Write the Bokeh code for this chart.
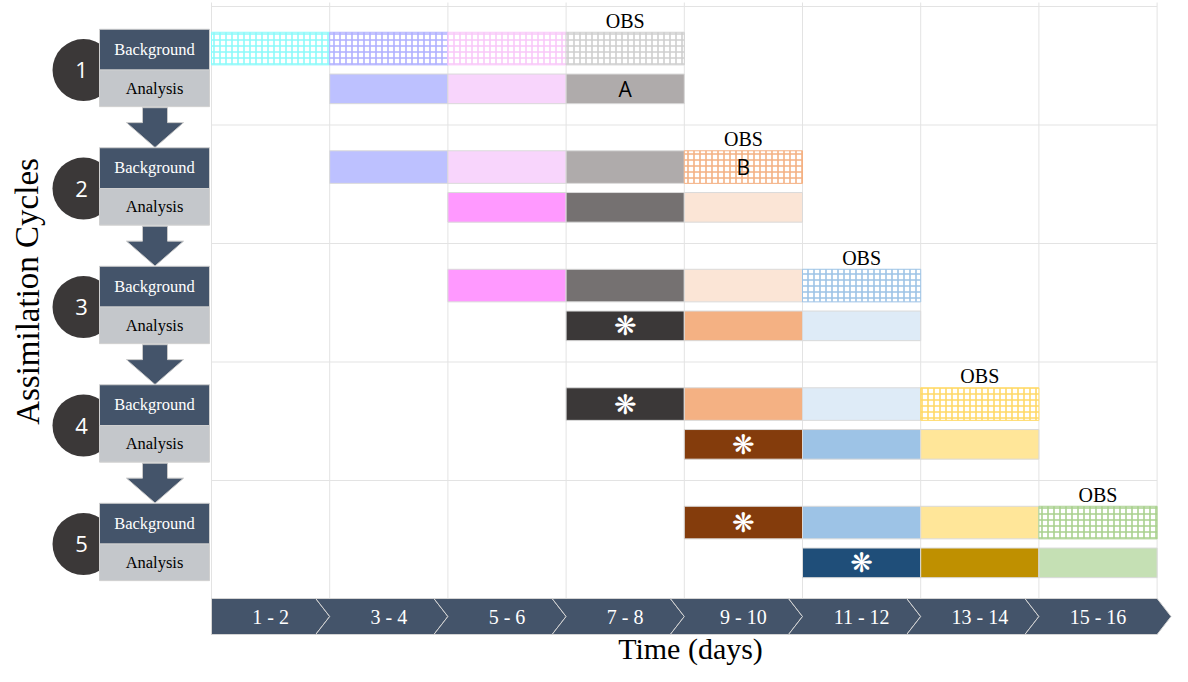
from bokeh.plotting import figure
from bokeh.models import Range1d, ColumnDataSource
from bokeh.core.properties import value
from bokeh.embed import file_html
from bokeh.resources import INLINE

# ---------------- data ----------------
periods = ["1 - 2", "3 - 4", "5 - 6", "7 - 8", "9 - 10", "11 - 12", "13 - 14", "15 - 16"]
cycles = [1, 2, 3, 4, 5]
stages = ["Background", "Analysis"]

bar_cycle = [1, 1, 1, 1, 1, 1, 1,
             2, 2, 2, 2, 2, 2, 2,
             3, 3, 3, 3, 3, 3, 3,
             4, 4, 4, 4, 4, 4, 4,
             5, 5, 5, 5, 5, 5, 5]
bar_stage = (["Background"] * 4 + ["Analysis"] * 3) * 5
bar_period = ["1 - 2", "3 - 4", "5 - 6", "7 - 8", "3 - 4", "5 - 6", "7 - 8",
              "3 - 4", "5 - 6", "7 - 8", "9 - 10", "5 - 6", "7 - 8", "9 - 10",
              "5 - 6", "7 - 8", "9 - 10", "11 - 12", "7 - 8", "9 - 10", "11 - 12",
              "7 - 8", "9 - 10", "11 - 12", "13 - 14", "9 - 10", "11 - 12", "13 - 14",
              "9 - 10", "11 - 12", "13 - 14", "15 - 16", "11 - 12", "13 - 14", "15 - 16"]
bar_color = ["#8CFAFA", "#B0B0FF", "#F9C8F9", "#CFCFCF", "#BDC1FF", "#F8D5FC", "#AFABAB",
             "#BDC1FF", "#F8D5FC", "#AFABAB", "#F4B183", "#FF99FF", "#757171", "#FBE5D6",
             "#FF99FF", "#757171", "#FBE5D6", "#9DC3E6", "#3B3838", "#F4B183", "#DEEBF7",
             "#3B3838", "#F4B183", "#DEEBF7", "#FFD966", "#843C0C", "#9DC3E6", "#FFE699",
             "#843C0C", "#9DC3E6", "#FFE699", "#A9D18E", "#1F4E79", "#BF9000", "#C5E0B4"]
bar_obs = [True, True, True, True, False, False, False,
           False, False, False, True, False, False, False,
           False, False, False, True, False, False, False,
           False, False, False, True, False, False, False,
           False, False, False, True, False, False, False]
bar_mark = ["", "", "", "", "", "", "A",
            "", "", "", "B", "", "", "",
            "", "", "", "", "❋", "", "",
            "❋", "", "", "", "❋", "", "",
            "❋", "", "", "", "❋", "", ""]

obs_cycle = [1, 2, 3, 4, 5]
obs_period = ["7 - 8", "9 - 10", "11 - 12", "13 - 14", "15 - 16"]

x_title = "Time (days)"
y_title = "Assimilation Cycles"

# ---------------- layout ----------------
W, H = 1172, 666
X0, CW = 211, 118.2          # canvas px where the period grid begins, px per column
Y0, BH = 6, 118.5            # canvas px of first band top, px per cycle band
SERIF = value("Liberation Serif")
SANS = value("Open Sans")


def px(x):
    return (x - X0) / CW


def py(y):
    return (y - Y0) / BH


stage_mid = {"Background": 0.355, "Analysis": 0.695}
stage_h = {"Background": 0.275, "Analysis": 0.25}

p = figure(width=W, height=H, output_backend="svg", toolbar_location=None,
           x_range=Range1d(px(0), px(W)), y_range=Range1d(py(H), py(0)),
           x_axis_location=None, y_axis_location=None, min_border=0)
p.grid.visible = False
p.outline_line_color = None
p.background_fill_color = "white"

n = len(periods)
tl_top, tl_bot = py(598), py(634)
tl_mid = (tl_top + tl_bot) / 2

# grid lines
gx = [[k, k] for k in range(n + 1)]
gy = [[py(2), tl_top] for k in range(n + 1)]
p.multi_line(gx, gy, line_color="#E3E3E3", line_width=1)
hx = [[0, n] for c in range(len(cycles))]
hy = [[c, c] for c in range(len(cycles))]
p.multi_line(hx, hy, line_color="#E3E3E3", line_width=1)

# left panel: circles, stage boxes, arrows
cx = px(83)
bx0, bx1 = px(99), px(209)
p.scatter(x=[cx] * len(cycles), y=[c - 1 + 0.536 for c in cycles], size=62,
          fill_color="#3B3838", line_color=None)
p.text(x=[px(81)] * len(cycles), y=[c - 1 + 0.54 for c in cycles], text=[str(c) for c in cycles],
       text_color="white", text_font=SANS, text_font_size="22px",
       text_align="center", text_baseline="middle")
p.quad(left=bx0, right=bx1, top=[c - 1 + 0.192 for c in cycles],
       bottom=[c - 1 + 0.536 for c in cycles], fill_color="#44546A", line_color="#D0D0D0")
p.quad(left=bx0, right=bx1, top=[c - 1 + 0.536 for c in cycles],
       bottom=[c - 1 + 0.845 for c in cycles], fill_color="#C4C7CB", line_color="#D0D0D0")
bmid = (bx0 + bx1) / 2
p.text(x=[bmid] * len(cycles), y=[c - 1 + 0.362 for c in cycles], text=[stages[0]] * len(cycles),
       text_color="white", text_font=SERIF, text_font_size="16.5px",
       text_align="center", text_baseline="middle")
p.text(x=[bmid] * len(cycles), y=[c - 1 + 0.69 for c in cycles], text=[stages[1]] * len(cycles),
       text_color="black", text_font=SERIF, text_font_size="16.5px",
       text_align="center", text_baseline="middle")
ax_s0, ax_s1 = px(142), px(167)
ax_h0, ax_h1 = px(126), px(183)
axm = (ax_h0 + ax_h1) / 2
arr_x, arr_y = [], []
for c in cycles[:-1]:
    b = c - 1
    arr_x.append([ax_s0, ax_s1, ax_s1, ax_h1, axm, ax_h0, ax_s0])
    arr_y.append([b + 0.854, b + 0.854, b + 0.98, b + 0.98, b + 1.19, b + 0.98, b + 0.98])
p.patches(arr_x, arr_y, fill_color="#44546A", line_color="#C8C8C8", line_width=1)

# bars
idx = [periods.index(q) for q in bar_period]
src = dict(left=[i for i in idx], right=[i + 1 for i in idx],
           top=[c - 1 + stage_mid[s] - stage_h[s] / 2 for c, s in zip(bar_cycle, bar_stage)],
           bottom=[c - 1 + stage_mid[s] + stage_h[s] / 2 for c, s in zip(bar_cycle, bar_stage)],
           xm=[i + 0.5 for i in idx],
           ym=[c - 1 + stage_mid[s] for c, s in zip(bar_cycle, bar_stage)],
           color=bar_color, mark=bar_mark)
solid = ColumnDataSource({k: [v[j] for j in range(len(idx)) if not bar_obs[j]] for k, v in src.items()})
hatch = ColumnDataSource({k: [v[j] for j in range(len(idx)) if bar_obs[j]] for k, v in src.items()})
p.quad(left="left", right="right", top="top", bottom="bottom", source=solid,
       fill_color="color", line_color="#DADADA", line_width=1)
p.quad(left="left", right="right", top="top", bottom="bottom", source=hatch,
       fill_color="white", line_color="color", line_width=1,
       hatch_pattern="+", hatch_color="color", hatch_scale=6, hatch_weight=1.6)

# marks inside bars
letters = ColumnDataSource({k: [v[j] for j in range(len(idx)) if bar_mark[j] in ("A", "B")]
                            for k, v in src.items()})
stars = ColumnDataSource({k: [v[j] for j in range(len(idx)) if bar_mark[j] == "❋"]
                          for k, v in src.items()})
p.text(x="xm", y="ym", text="mark", source=letters, text_color="black", text_font=SANS,
       text_font_size="21px", text_align="center", text_baseline="middle")
p.text(x="xm", y="ym", text="mark", source=stars, text_color="white",
       text_font=value("DejaVu Sans"), text_font_size="27px",
       text_align="center", text_baseline="middle")

# OBS labels
p.text(x=[periods.index(q) + 0.5 for q in obs_period], y=[c - 1 + 0.12 for c in obs_cycle],
       text=["OBS"] * len(obs_cycle), text_color="black", text_font=SERIF,
       text_font_size="20px", text_align="center", text_baseline="middle")

# timeline chevrons
d = 14 / CW
cxs, cys = [], []
for i in range(n):
    if i == 0:
        xs = [0, 1 - d, 1, 1 - d, 0]
        ys = [tl_top, tl_top, tl_mid, tl_bot, tl_bot]
    elif i == n - 1:
        xs = [i - d, n, n + d, n, i - d, i]
        ys = [tl_top, tl_top, tl_mid, tl_bot, tl_bot, tl_mid]
    else:
        xs = [i - d, i + 1 - d, i + 1, i + 1 - d, i - d, i]
        ys = [tl_top, tl_top, tl_mid, tl_bot, tl_bot, tl_mid]
    cxs.append(xs)
    cys.append(ys)
p.patches(cxs, cys, fill_color="#44546A", line_color="#D4D4D4", line_width=1)
p.text(x=[i + 0.5 for i in range(n)], y=[tl_mid] * n, text=periods, text_color="white",
       text_font=SERIF, text_font_size="20px", text_align="center", text_baseline="middle")

# titles
p.text(x=[px(690)], y=[py(648)], text=[x_title], text_color="black",
       text_font=SERIF, text_font_size="30px", text_align="center", text_baseline="middle")
p.text(x=[px(27)], y=[py(291)], text=[y_title], text_color="black",
       text_font=SERIF, text_font_size="33px", text_align="center", text_baseline="middle",
       angle=1.5708)

open("out.html", "w").write(file_html(p, INLINE))
